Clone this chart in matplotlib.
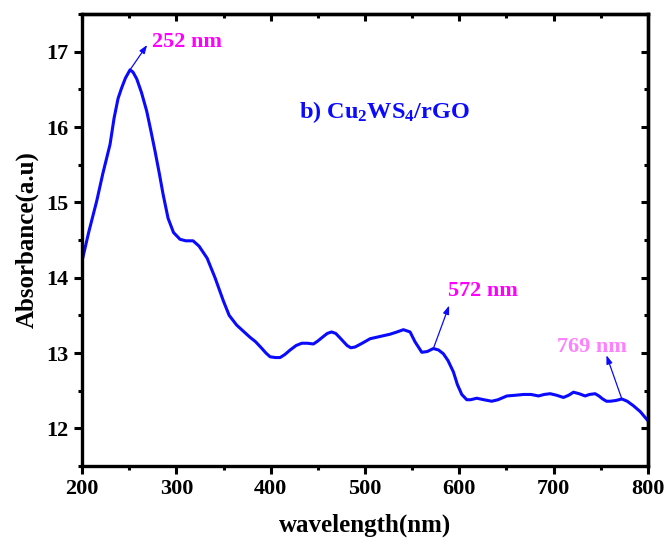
import matplotlib
matplotlib.use("Agg")
import matplotlib.pyplot as plt
from matplotlib.ticker import MultipleLocator

plt.rcParams["font.family"] = ["Liberation Serif", "DejaVu Serif"]
plt.rcParams["font.weight"] = "bold"
plt.rcParams["mathtext.fontset"] = "custom"
plt.rcParams["mathtext.default"] = "bf"
plt.rcParams["mathtext.bf"] = "Liberation Serif:bold"
plt.rcParams["mathtext.rm"] = "Liberation Serif:bold"

# UV-vis spectrum
wavelength = [200, 207, 215.6, 222, 229.7, 234, 238.2, 242, 246, 250.9,
              254, 258, 263, 268.6, 273, 277.4, 282, 285.9, 291.2, 297,
              303.9, 310, 317.7, 324, 332.6, 341, 349.9, 356, 364, 371,
              378, 384, 390, 395, 399.4, 405, 410, 415, 420.6, 427,
              433, 439, 445.3, 450, 455.9, 460, 464.5, 469, 473.6, 481,
              485, 489.5, 497, 505.4, 516, 526.6, 534, 540.7, 547.8, 553,
              560.2, 566, 572.5, 578, 583.1, 588, 593.7, 598, 602.6, 607.9,
              612, 618.5, 626, 634.4, 641, 650.4, 660, 668, 676, 684,
              690, 696.3, 703, 710.4, 716, 721, 727, 733.4, 738, 744,
              748, 752, 756, 760, 766, 772.3, 778, 784.6, 792, 800]
absorbance = [14.22, 14.60, 15.02, 15.38, 15.77, 16.12, 16.38, 16.52, 16.65, 16.76,
              16.73, 16.64, 16.46, 16.21, 15.95, 15.68, 15.38, 15.11, 14.79, 14.60,
              14.51, 14.49, 14.49, 14.42, 14.26, 14.0, 13.69, 13.50, 13.37, 13.29,
              13.21, 13.15, 13.07, 13.00, 12.95, 12.94, 12.94, 12.98, 13.04, 13.10,
              13.13, 13.13, 13.12, 13.16, 13.22, 13.26, 13.28, 13.26, 13.20, 13.10,
              13.07, 13.08, 13.13, 13.19, 13.22, 13.25, 13.28, 13.31, 13.28, 13.15,
              13.01, 13.02, 13.06, 13.04, 12.99, 12.90, 12.75, 12.58, 12.45, 12.38,
              12.38, 12.40, 12.38, 12.36, 12.38, 12.43, 12.44, 12.45, 12.45, 12.43,
              12.45, 12.46, 12.44, 12.41, 12.44, 12.48, 12.46, 12.43, 12.45, 12.46,
              12.43, 12.39, 12.36, 12.36, 12.37, 12.39, 12.36, 12.30, 12.22, 12.10]

# peak annotations: (label, peak x, peak y, arrow tip x, arrow tip y, colour)
peaks = [
    ("252 nm", 250.9, 16.76, 269.0, 17.09, "#ff00ff"),
    ("572 nm", 572.5, 13.06, 589.2, 13.63, "#ff00ff"),
    ("769 nm", 772.3, 12.39, 756.0, 12.97, "#ff80ff"),
]
label_pos = [(274, 17.13), (588, 13.82), (704, 13.08)]

fig = plt.figure(figsize=(6.68, 5.42), dpi=100)
ax = fig.add_axes([0.1228, 0.1402, 0.8472, 0.8338])

ax.plot(wavelength, absorbance, color="#0a0aff", lw=2.2)

for (txt, px, py, tx, ty, col), (lx, ly) in zip(peaks, label_pos):
    ax.annotate("", xy=(tx, ty), xytext=(px, py),
                arrowprops=dict(arrowstyle="-|>,head_length=0.5,head_width=0.18",
                                color="#0a0aff", lw=0.9, shrinkA=0, shrinkB=0))
    ax.text(lx, ly, txt, color=col, fontsize=16, fontweight="bold",
            ha="left", va="center")

ax.text(521, 16.2, r"b) Cu$_2$WS$_4$/rGO", color="#0a0aff", fontsize=17.5,
        fontweight="bold", ha="center", va="center")

ax.set_xlim(200, 800)
ax.set_ylim(11.5, 17.5)
ax.xaxis.set_major_locator(MultipleLocator(100))
ax.xaxis.set_minor_locator(MultipleLocator(50))
ax.yaxis.set_major_locator(MultipleLocator(1))
ax.yaxis.set_minor_locator(MultipleLocator(0.5))

for s in ax.spines.values():
    s.set_linewidth(2.4)

ax.tick_params(which="both", direction="out", width=2.2, labelsize=16,
               top=False, right=False)
ax.tick_params(which="major", length=5.5, pad=4)
ax.tick_params(which="minor", length=3)

# inward ticks on top and right, Origin style
axt = ax.secondary_xaxis("top")
axt.xaxis.set_major_locator(MultipleLocator(100))
axt.xaxis.set_minor_locator(MultipleLocator(50))
axt.tick_params(which="both", direction="in", width=2.2, labeltop=False)
axt.tick_params(which="major", length=5)
axt.tick_params(which="minor", length=3)
axr = ax.secondary_yaxis("right")
axr.yaxis.set_major_locator(MultipleLocator(1))
axr.yaxis.set_minor_locator(MultipleLocator(0.5))
axr.tick_params(which="both", direction="in", width=2.2, labelright=False)
axr.tick_params(which="major", length=5)
axr.tick_params(which="minor", length=3)
for a in (axt, axr):
    for s in a.spines.values():
        s.set_linewidth(2.4)

for lab in ax.get_xticklabels() + ax.get_yticklabels():
    lab.set_fontweight("bold")

ax.set_xlabel("wavelength(nm)", fontsize=18, fontweight="bold", labelpad=10)
ax.set_ylabel("Absorbance(a.u)", fontsize=18, fontweight="bold", labelpad=6)

fig.savefig("out.png", dpi=100)
